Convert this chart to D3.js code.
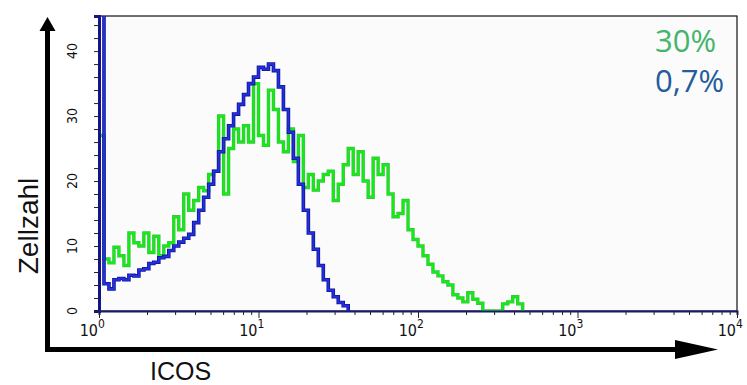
<!DOCTYPE html>
<html>
<head>
<meta charset="utf-8">
<script src="https://cdn.jsdelivr.net/npm/d3@7"></script>
<style>
  body { margin: 0; background: #fff; }
</style>
</head>
<body>
<svg id="chart" width="747" height="385"></svg>
<script>
// histogram channels, 32 per decade starting at 10^0
var binsPerDecade = 32;
var blueCounts = [60, 4.2, 3.4, 4.8, 5.0, 4.8, 5.5, 5.4, 6.3, 6.5,
    7.3, 7.5, 8.2, 8.4, 9.3, 10.0, 10.6, 11.2, 11.8, 13.6,
    15.5, 17.5, 19.5, 21.5, 24.5, 26.5, 28.5, 30.3, 31.8, 33.3,
    35, 36, 37.5, 37.2, 38, 37, 34.5, 31, 27.5, 23.5,
    19.5, 15.5, 12, 9.5, 7, 4.8, 3.2, 2.2, 1.3, 0.8];
var greenCounts = [27, 8, 7.4, 9.8, 8.5, 7, 12, 10.5, 10, 12,
    9, 11.5, 8.5, 10, 10.5, 14.5, 12.5, 18, 15.5, 17,
    19, 18.5, 21, 21.5, 30, 18, 25, 28, 26, 28.5,
    26, 35, 27, 25.5, 34, 31, 26, 24.5, 28, 23,
    27, 19, 21, 18.6, 20, 21, 21.5, 17, 19.5, 22.5,
    25, 21, 24.5, 20, 17.5, 23.5, 21, 22.5, 18, 14.5,
    15, 17, 12.5, 11, 10, 8.5, 7.2, 6, 5.4, 4.5,
    4, 2.5, 2, 1.4, 2.8, 1.8, 1.2, 0, 0, 0,
    0, 1.1, 1.4, 2.2, 1.1];
var yTicks = [0, 10, 20, 30, 40];
var xDecades = [0, 1, 2, 3, 4];
var legendLabels = ['30%', '0,7%'];
var legendColors = ['#45b56c', '#245c9c'];

var margin = {top: 16, right: 10, bottom: 74, left: 99};
var width = 747, height = 385;

var svg = d3.select('#chart');

var x = d3.scaleLog()
    .domain([1, 10000])
    .range([margin.left, width - margin.right]);

var y = d3.scaleLinear()
    .domain([0, 45.4])
    .range([height - margin.bottom, margin.top]);

// plot background + frame
svg.append('rect')
    .attr('x', x(1)).attr('y', y(45.4))
    .attr('width', x(10000) - x(1)).attr('height', y(0) - y(45.4))
    .attr('fill', '#fbfbfb')
    .attr('stroke', '#111')
    .attr('stroke-width', 1.2);

svg.append('clipPath').attr('id', 'plotClip')
    .append('rect')
    .attr('x', x(1)).attr('y', y(45.4))
    .attr('width', x(10000) - x(1)).attr('height', y(0) - y(45.4));

function stepPoints(counts) {
    var pts = [[1, 0]];
    counts.forEach((c, i) => pts.push([Math.pow(10, i / binsPerDecade), c]));
    pts.push([Math.pow(10, counts.length / binsPerDecade), 0]);
    return pts;
}

var line = d3.line()
    .x(d => x(d[0]))
    .y(d => y(d[1]))
    .curve(d3.curveStepAfter);

var curves = svg.append('g').attr('clip-path', 'url(#plotClip)');

// green histogram (behind)
curves.append('path')
    .attr('d', line(stepPoints(greenCounts)))
    .attr('fill', 'none')
    .attr('stroke', '#3fbf48')
    .attr('stroke-width', 3.4);
curves.append('path')
    .attr('d', line(stepPoints(greenCounts)))
    .attr('fill', 'none')
    .attr('stroke', '#11ee11')
    .attr('stroke-width', 2);

// blue histogram (front)
curves.append('path')
    .attr('d', line(stepPoints(blueCounts)))
    .attr('fill', 'none')
    .attr('stroke', '#14148a')
    .attr('stroke-width', 3.6);
curves.append('path')
    .attr('d', line(stepPoints(blueCounts)))
    .attr('fill', 'none')
    .attr('stroke', '#2030e6')
    .attr('stroke-width', 2);

// y axis
var yAxis = d3.axisLeft(y)
    .tickValues(d3.range(0, 46, 2))
    .tickSize(5)
    .tickFormat('');

var yG = svg.append('g')
    .attr('transform', `translate(${x(1)},0)`)
    .call(yAxis);
yG.select('.domain').attr('stroke', '#14148a').attr('stroke-width', 3);
yG.selectAll('.tick line').attr('stroke', '#222');

svg.selectAll('text.yLabel')
    .data(yTicks)
    .enter()
    .append('text')
    .attr('class', 'yLabel')
    .attr('transform', d => `translate(${x(1) - 27},${y(d)}) rotate(-90)`)
    .attr('text-anchor', 'middle')
    .attr('dominant-baseline', 'central')
    .style('font-family', '"Liberation Sans Narrow", "DejaVu Sans Condensed", sans-serif')
    .style('font-size', '14px')
    .attr('fill', '#111')
    .text(d => d);

// x axis (log, minor ticks at 2..9)
var xTickValues = [];
xDecades.forEach(k => {
    if (k < 4) d3.range(1, 10).forEach(m => xTickValues.push(m * Math.pow(10, k)));
    else xTickValues.push(Math.pow(10, k));
});

var xAxis = d3.axisBottom(x)
    .tickValues(xTickValues)
    .tickSize(4)
    .tickFormat('');

var xG = svg.append('g')
    .attr('transform', `translate(0,${y(0)})`)
    .call(xAxis);
xG.select('.domain').attr('stroke', '#1a1a70').attr('stroke-width', 2);
xG.selectAll('.tick line')
    .attr('stroke', '#222')
    .attr('y2', d => Math.abs(Math.log10(d) - Math.round(Math.log10(d))) < 1e-9 ? 7 : 4);

var xLabels = svg.selectAll('g.xLabel')
    .data(xDecades)
    .enter()
    .append('g')
    .attr('class', 'xLabel')
    .attr('transform', d => `translate(${x(Math.pow(10, d))},0)`);

xLabels.append('text')
    .attr('x', -1)
    .attr('y', y(0) + 25)
    .attr('text-anchor', 'end')
    .style('font-family', '"Liberation Sans Narrow", "DejaVu Sans Condensed", sans-serif')
    .style('font-size', '16px')
    .attr('fill', '#111')
    .text('10');

xLabels.append('text')
    .attr('x', -1)
    .attr('y', y(0) + 17)
    .attr('text-anchor', 'start')
    .style('font-family', '"Liberation Sans Narrow", "DejaVu Sans Condensed", sans-serif')
    .style('font-size', '12px')
    .attr('fill', '#111')
    .text(d => d);

// big black arrows
svg.append('line')
    .attr('x1', 47.5).attr('y1', 352).attr('x2', 47.5).attr('y2', 28)
    .attr('stroke', '#000').attr('stroke-width', 5);
svg.append('path')
    .attr('d', 'M47.5,17 L39.5,31 L55.5,31 Z')
    .attr('fill', '#000');
svg.append('line')
    .attr('x1', 45).attr('y1', 349.5).attr('x2', 680).attr('y2', 349.5)
    .attr('stroke', '#000').attr('stroke-width', 5);
svg.append('path')
    .attr('d', 'M718,349.5 L675,340 L675,359 Z')
    .attr('fill', '#000');

// axis titles
svg.append('text')
    .attr('transform', 'translate(38,226) rotate(-90)')
    .attr('text-anchor', 'middle')
    .style('font-family', '"Liberation Sans", Arial, sans-serif')
    .style('font-size', '28px')
    .attr('fill', '#111')
    .text('Zellzahl');

svg.append('text')
    .attr('x', 150)
    .attr('y', 380)
    .style('font-family', '"Liberation Sans", Arial, sans-serif')
    .style('font-size', '25px')
    .attr('fill', '#111')
    .text('ICOS');

// percentages
svg.selectAll('text.pct')
    .data(legendLabels)
    .enter()
    .append('text')
    .attr('class', 'pct')
    .attr('x', 655)
    .attr('y', (d, i) => 52 + i * 40)
    .style('font-family', '"Open Sans", sans-serif')
    .style('font-size', '31px')
    .attr('fill', (d, i) => legendColors[i])
    .text(d => d);
</script>
</body>
</html>
